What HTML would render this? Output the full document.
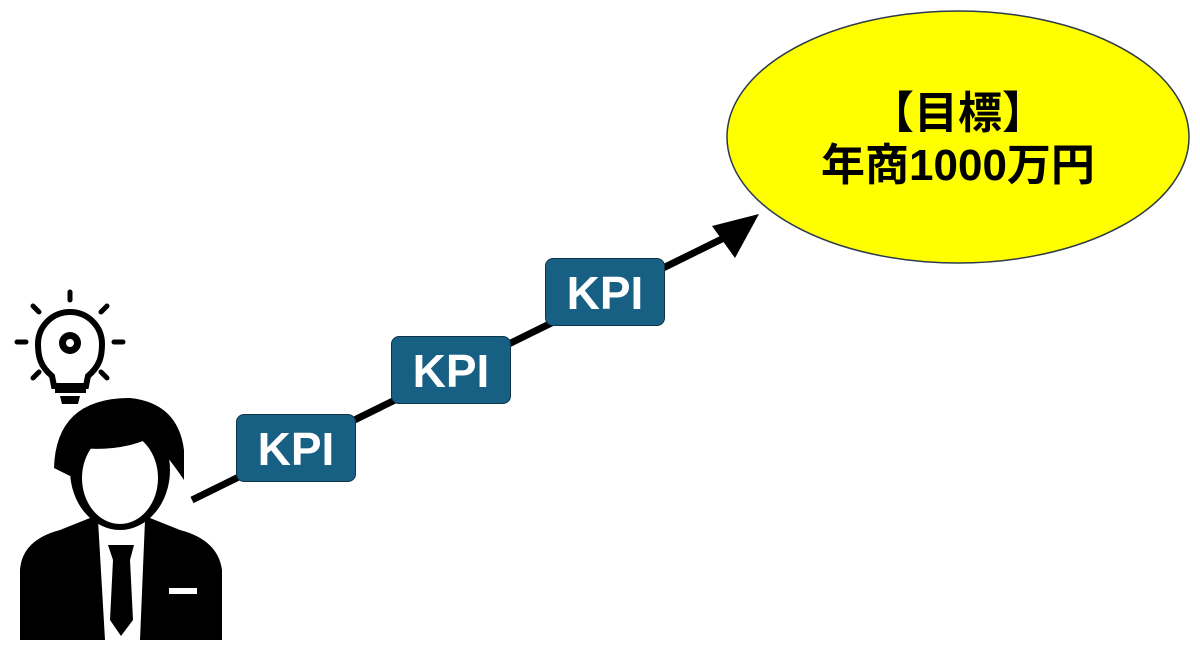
<!DOCTYPE html>
<html><head><meta charset="utf-8"><style>
html,body{margin:0;padding:0;background:#fff;width:1200px;height:672px;overflow:hidden}
.kpi{position:absolute;width:120px;height:68px;background:#186083;border:1.5px solid #0d3347;border-radius:8px;box-sizing:border-box;color:#fff;font:bold 46px "Liberation Sans",sans-serif;text-align:center;line-height:68px}
.t{position:absolute;left:727px;width:462px;text-align:center;font:bold 44px "Liberation Sans","Noto Sans CJK JP",sans-serif;color:#000;line-height:50px}
</style></head><body>
<svg width="1200" height="672" style="position:absolute;left:0;top:0">
<ellipse cx="958" cy="137" rx="231" ry="126" fill="#ffff00" stroke="#2a3a4a" stroke-width="1.5"/>
<line x1="192" y1="500" x2="728" y2="236" stroke="#000" stroke-width="7"/>
<polygon points="759,214 712,226 735,258" fill="#000"/>
<g stroke="#000" stroke-width="5" stroke-linecap="round" fill="none">
<line x1="70" y1="292" x2="70" y2="300"/>
<line x1="33" y1="306" x2="39" y2="312"/>
<line x1="107" y1="306" x2="101" y2="312"/>
<line x1="17" y1="342" x2="26" y2="342"/>
<line x1="114" y1="342" x2="123" y2="342"/>
<line x1="33" y1="378" x2="39" y2="372"/>
<line x1="107" y1="378" x2="101" y2="372"/>
<path d="M52,376 C40,366 38,356 38,344 A32,32 0 0 1 102,344 C102,356 100,366 88,376 L86,386 L54,386 Z" stroke-width="6"/>
</g>
<rect x="55" y="388" width="31" height="5" fill="#000"/>
<path d="M60,396 L80,396 L78,404 L62,404 Z" fill="#000"/>
<circle cx="70" cy="343" r="11" fill="#000"/>
<circle cx="70" cy="343" r="4" fill="#fff"/>
<path d="M20,640 L20,570 Q22,540 60,530 L90,518 L150,518 L180,530 Q218,540 222,570 L222,640 Z" fill="#000"/>
<path d="M98,520 L105,640 L140,640 L145,520 Z" fill="#fff"/>
<path d="M108,545 L134,545 L130,560 L133,620 L121,636 L110,620 L113,560 Z" fill="#000"/>
<rect x="169" y="588" width="28" height="6" fill="#fff"/>
<ellipse cx="120" cy="470" rx="50" ry="60" fill="#000"/>
<ellipse cx="120" cy="478" rx="38" ry="46" fill="#fff"/>
<path d="M54,468 Q56,398 130,398 Q178,403 184,450 L184,480 Q165,452 150,438 Q120,452 80,448 L70,476 Z" fill="#000"/>
</svg>
<div class="kpi" style="left:236px;top:414px">KPI</div>
<div class="kpi" style="left:391px;top:336px">KPI</div>
<div class="kpi" style="left:545px;top:258px">KPI</div>
<div class="t" style="top:89px">【目標】</div>
<div class="t" style="top:141px">年商1000万円</div>
</body></html>
